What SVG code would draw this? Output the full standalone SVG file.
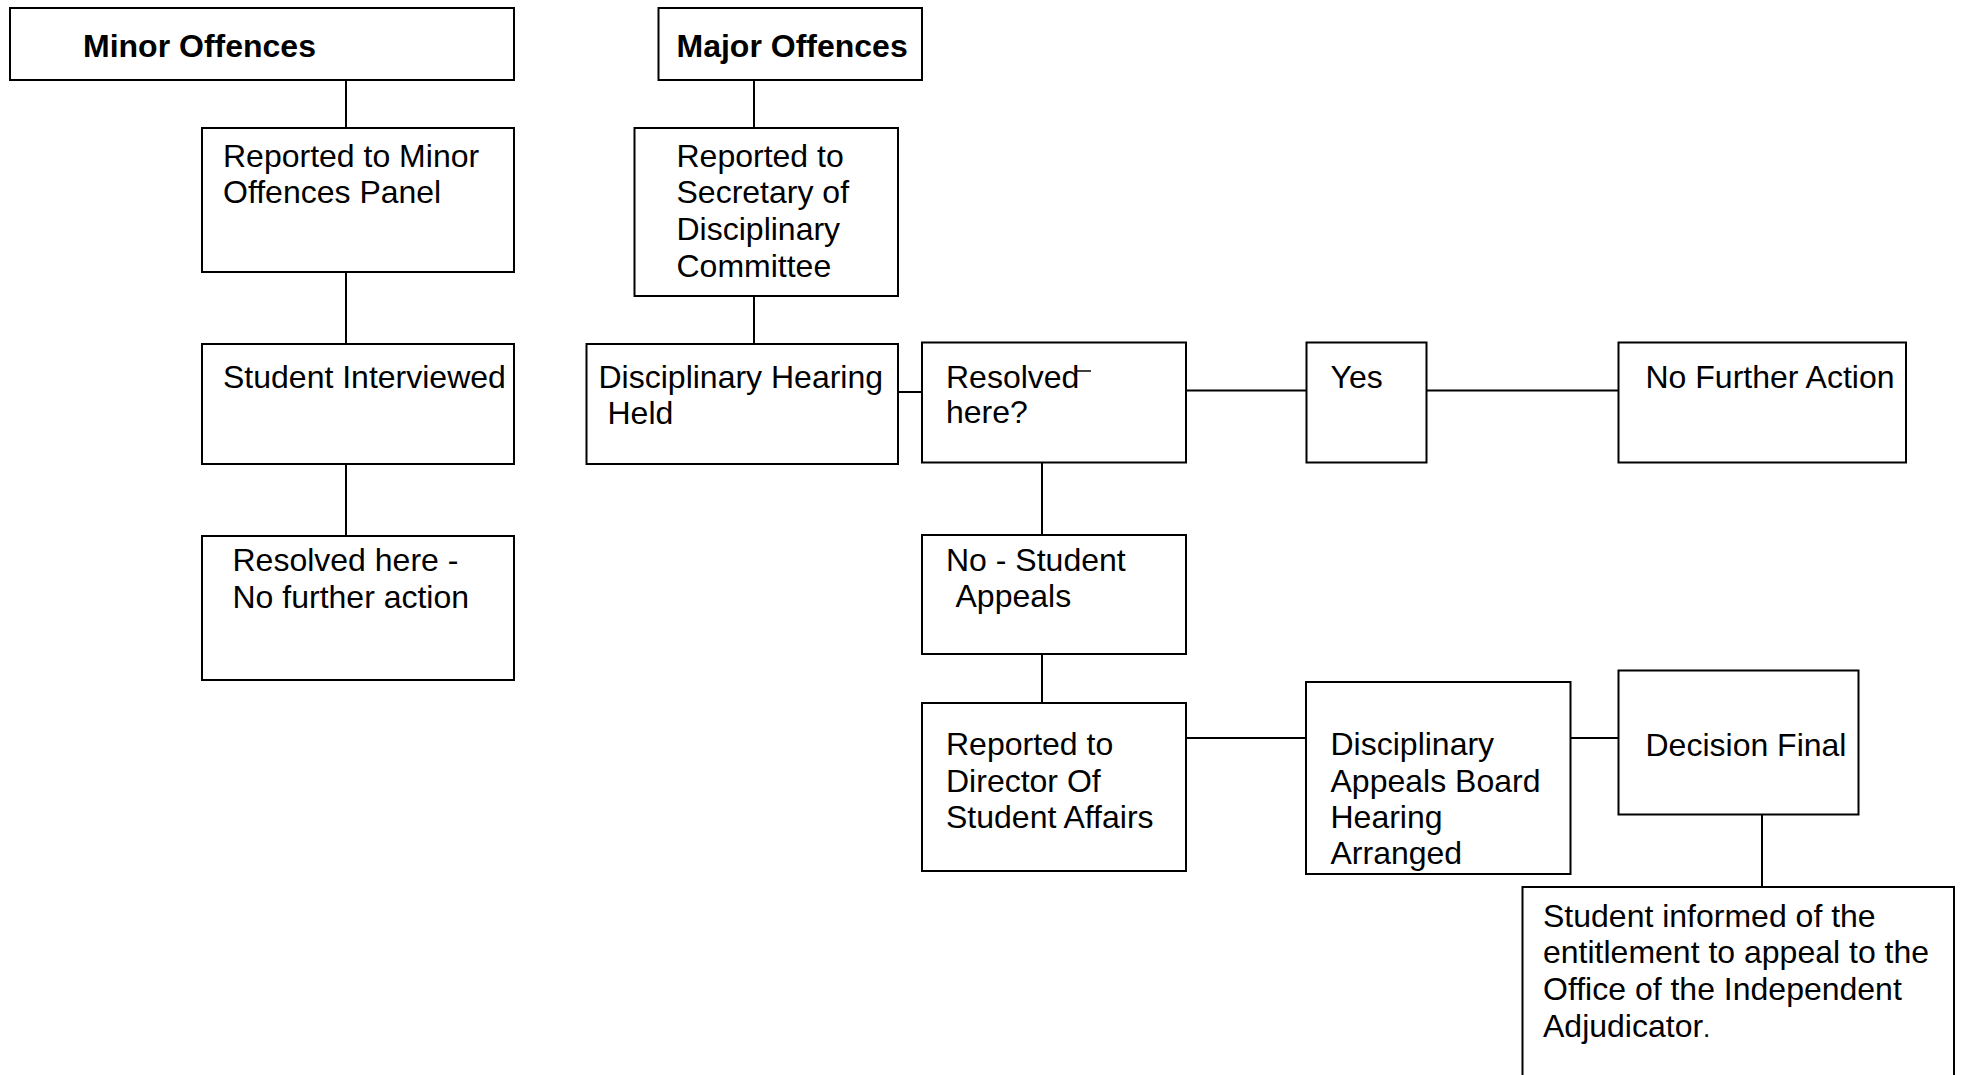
<svg xmlns="http://www.w3.org/2000/svg" width="1961" height="1075" viewBox="0 0 1961 1075">
<style>
.box{fill:#fff;stroke:#000;stroke-width:2}
.c{stroke:#000;stroke-width:2;fill:none}
text{font-family:"Liberation Sans",Arial,sans-serif;font-size:32px;fill:#000}
.b{font-weight:bold}
</style>
<rect width="1961" height="1075" fill="#fff"/>
<g id="connectors">
<line class="c" x1="346" y1="80" x2="346" y2="128"/>
<line class="c" x1="346" y1="272" x2="346" y2="344"/>
<line class="c" x1="346" y1="464" x2="346" y2="536"/>
<line class="c" x1="754" y1="80" x2="754" y2="128"/>
<line class="c" x1="754" y1="296" x2="754" y2="344"/>
<line class="c" x1="898" y1="392" x2="922" y2="392"/>
<line class="c" x1="1186" y1="390.5" x2="1306.5" y2="390.5"/>
<line class="c" x1="1426.5" y1="390.5" x2="1618.5" y2="390.5"/>
<line class="c" x1="1042" y1="463" x2="1042" y2="535"/>
<line class="c" x1="1042" y1="654" x2="1042" y2="703"/>
<line class="c" x1="1186" y1="738" x2="1306" y2="738"/>
<line class="c" x1="1570.5" y1="738" x2="1618.5" y2="738"/>
<line class="c" x1="1762" y1="814" x2="1762" y2="887"/>
</g>
<g id="minor-offences"><rect class="box" x="10" y="8" width="504" height="72"/><text class="b" x="83" y="57">Minor Offences</text></g>
<g id="major-offences"><rect class="box" x="658.5" y="8" width="263.5" height="72"/><text class="b" x="676.5" y="57">Major Offences</text></g>
<g id="reported-minor"><rect class="box" x="202" y="128" width="312" height="144"/><text x="223" y="166.5">Reported to Minor</text><text x="223" y="203">Offences Panel</text></g>
<g id="student-interviewed"><rect class="box" x="202" y="344" width="312" height="120"/><text x="223" y="387.5">Student Interviewed</text></g>
<g id="resolved-minor"><rect class="box" x="202" y="536" width="312" height="144"/><text x="232.5" y="571">Resolved here -</text><text x="232.5" y="607.5">No further action</text></g>
<g id="reported-secretary"><rect class="box" x="634.5" y="128" width="263.5" height="168"/><text x="676.5" y="166.5">Reported to</text><text x="676.5" y="203">Secretary of</text><text x="676.5" y="239.5">Disciplinary</text><text x="676.5" y="276.5">Committee</text></g>
<g id="hearing-held"><rect class="box" x="586.5" y="344" width="311.5" height="120"/><text x="598.5" y="387.5">Disciplinary Hearing</text><text x="607.5" y="423.5">Held</text></g>
<g id="resolved-here"><rect class="box" x="922" y="342.5" width="264" height="120"/><text x="946" y="387.5">Resolved</text><text x="946" y="423">here?</text><line x1="1076.5" y1="371" x2="1091" y2="371" stroke="#000" stroke-width="1.5"/></g>
<g id="yes"><rect class="box" x="1306.5" y="342.5" width="120" height="120"/><text x="1330.5" y="387.5">Yes</text></g>
<g id="no-further-action"><rect class="box" x="1618.5" y="342.5" width="287.5" height="120"/><text x="1645.5" y="387.5">No Further Action</text></g>
<g id="student-appeals"><rect class="box" x="922" y="535" width="264" height="119"/><text x="946" y="571">No - Student</text><text x="955.5" y="606.5">Appeals</text></g>
<g id="reported-director"><rect class="box" x="922" y="703" width="264" height="168"/><text x="946" y="755">Reported to</text><text x="946" y="791.5">Director Of</text><text x="946" y="828">Student Affairs</text></g>
<g id="appeals-board"><rect class="box" x="1306" y="682" width="264.5" height="192"/><text x="1330.5" y="755">Disciplinary</text><text x="1330.5" y="791.5">Appeals Board</text><text x="1330.5" y="828">Hearing</text><text x="1330.5" y="864">Arranged</text></g>
<g id="decision-final"><rect class="box" x="1618.5" y="670.5" width="240" height="144"/><text x="1645.5" y="756">Decision Final</text></g>
<g id="student-informed"><rect class="box" x="1522.5" y="887" width="431.5" height="210"/><text x="1543" y="926.5">Student informed of the</text><text x="1543" y="963">entitlement to appeal to the</text><text x="1543" y="1000">Office of the Independent</text><text x="1543" y="1037">Adjudicator<tspan font-size="26">.</tspan></text></g>
</svg>
